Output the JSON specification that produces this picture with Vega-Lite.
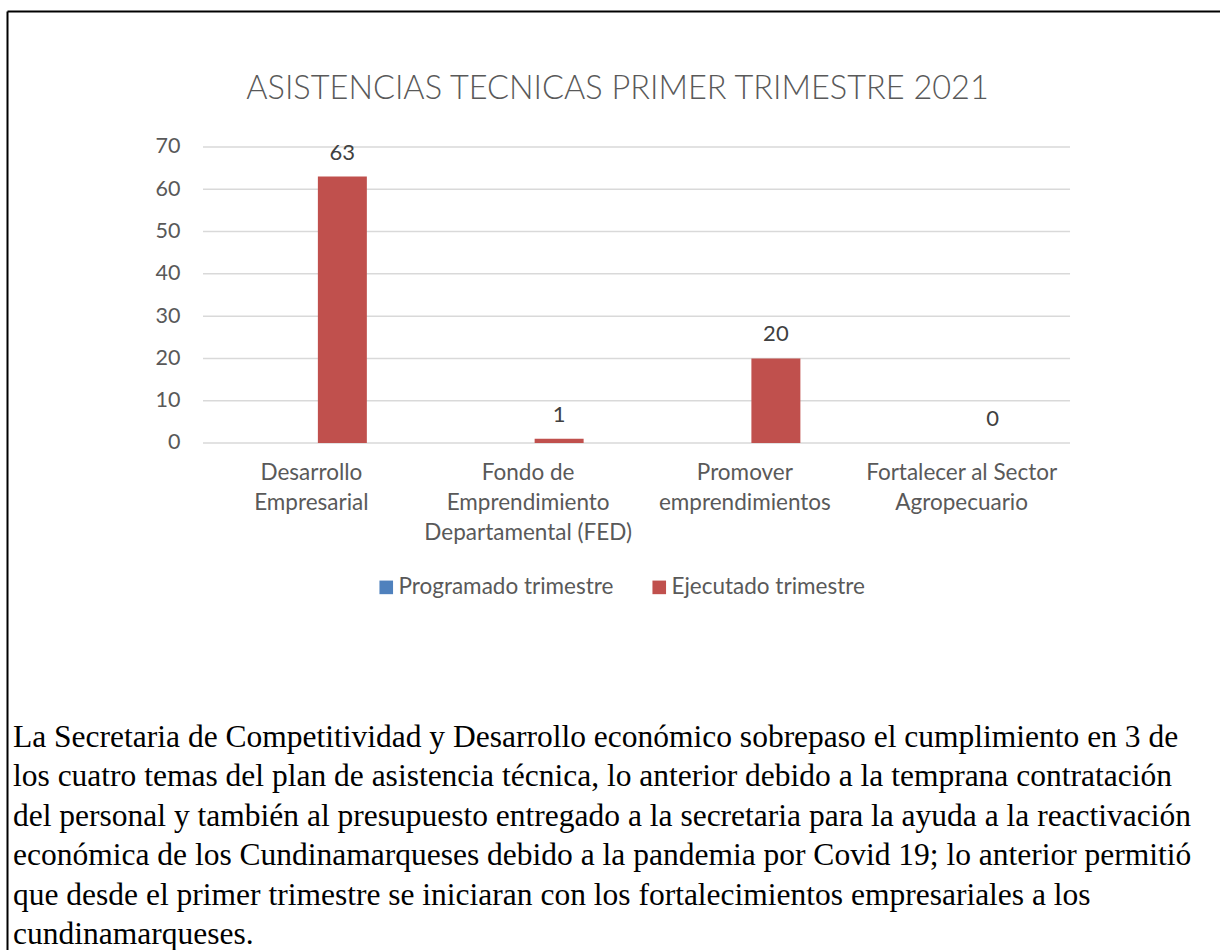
{
  "$schema": "https://vega.github.io/schema/vega-lite/v6.json",
  "autosize": {"type": "none"},
  "width": 1213,
  "height": 939,
  "padding": {"left": 7, "top": 11, "right": 0, "bottom": 0},
  "background": "white",
  "config": {"view": {"stroke": null}},
  "title": {
    "text": "ASISTENCIAS TECNICAS PRIMER TRIMESTRE 2021",
    "anchor": "middle",
    "frame": "group",
    "orient": "top",
    "offset": -120,
    "baseline": "alphabetic",
    "font": "Lato",
    "fontSize": 32.5,
    "fontWeight": 300,
    "color": "#595959",
    "dx": 4
  },
  "datasets": {
    "barras": [
      {"categoria": "Desarrollo Empresarial", "serie": "Programado trimestre", "valor": null},
      {"categoria": "Desarrollo Empresarial", "serie": "Ejecutado trimestre", "valor": 63},
      {"categoria": "Fondo de Emprendimiento Departamental (FED)", "serie": "Programado trimestre", "valor": null},
      {"categoria": "Fondo de Emprendimiento Departamental (FED)", "serie": "Ejecutado trimestre", "valor": 1},
      {"categoria": "Promover emprendimientos", "serie": "Programado trimestre", "valor": null},
      {"categoria": "Promover emprendimientos", "serie": "Ejecutado trimestre", "valor": 20},
      {"categoria": "Fortalecer al Sector Agropecuario", "serie": "Programado trimestre", "valor": null},
      {"categoria": "Fortalecer al Sector Agropecuario", "serie": "Ejecutado trimestre", "valor": 0}
    ],
    "rejilla": [{"v": 0}, {"v": 10}, {"v": 20}, {"v": 30}, {"v": 40}, {"v": 50}, {"v": 60}, {"v": 70}],
    "parrafo": [
      {"linea": 1, "texto": "La Secretaria de Competitividad y Desarrollo económico sobrepaso el cumplimiento en 3 de"},
      {"linea": 2, "texto": "los cuatro temas del plan de asistencia técnica, lo anterior debido a la temprana contratación"},
      {"linea": 3, "texto": "del personal y también al presupuesto entregado a la secretaria para la ayuda a la reactivación"},
      {"linea": 4, "texto": "económica de los Cundinamarqueses debido a la pandemia por Covid 19; lo anterior permitió"},
      {"linea": 5, "texto": "que desde el primer trimestre se iniciaran con los fortalecimientos empresariales a los"},
      {"linea": 6, "texto": "cundinamarqueses."}
    ]
  },
  "layer": [
    {
      "layer": [
        {
          "data": {"name": "rejilla"},
          "mark": {"type": "rule", "color": "#d9d9d9", "strokeWidth": 1.5},
          "encoding": {
            "x": {"datum": "Desarrollo Empresarial", "type": "nominal", "bandPosition": 0},
            "x2": {"datum": "Fortalecer al Sector Agropecuario", "bandPosition": 1},
            "y": {"field": "v", "type": "quantitative"}
          }
        },
        {
          "data": {"name": "barras"},
          "mark": {"type": "bar"},
          "encoding": {
            "x": {
              "field": "categoria",
              "type": "nominal",
              "sort": null,
              "scale": {
                "domain": ["Desarrollo Empresarial", "Fondo de Emprendimiento Departamental (FED)", "Promover emprendimientos", "Fortalecer al Sector Agropecuario"],
                "paddingInner": 0,
                "paddingOuter": 0.798,
                "align": 0.5665
              },
              "axis": {
                "orient": "bottom",
                "offset": -507,
                "title": null,
                "domain": false,
                "ticks": false,
                "grid": false,
                "labelAngle": 0,
                "labelAlign": "center",
                "labelPadding": 29,
                "labelFont": "Lato",
                "labelFontSize": 22.5,
                "labelColor": "#595959",
                "labelLineHeight": 30,
                "labelLimit": 0,
                "labelExpr": "datum.label == 'Desarrollo Empresarial' ? ['Desarrollo', 'Empresarial'] : datum.label == 'Fondo de Emprendimiento Departamental (FED)' ? ['Fondo de', 'Emprendimiento', 'Departamental (FED)'] : datum.label == 'Promover emprendimientos' ? ['Promover', 'emprendimientos'] : ['Fortalecer al Sector', 'Agropecuario']"
              }
            },
            "xOffset": {
              "field": "serie",
              "type": "nominal",
              "scale": {"domain": ["Programado trimestre", "Ejecutado trimestre"], "paddingInner": 0.21, "paddingOuter": 0.853}
            },
            "y": {
              "field": "valor",
              "type": "quantitative",
              "scale": {"domain": [-119.9, 102.16], "nice": false, "zero": false},
              "axis": {
                "orient": "left",
                "offset": -173,
                "title": null,
                "domain": false,
                "ticks": false,
                "grid": false,
                "values": [0, 10, 20, 30, 40, 50, 60, 70],
                "labelPadding": 0,
                "labelFont": "Lato",
                "labelFontSize": 21.5,
                "labelColor": "#595959"
              }
            },
            "color": {
              "field": "serie",
              "type": "nominal",
              "scale": {"domain": ["Programado trimestre", "Ejecutado trimestre"], "range": ["#4F81BD", "#C0504D"]},
              "legend": {
                "orient": "none",
                "legendX": 368,
                "legendY": 565,
                "direction": "horizontal",
                "title": null,
                "symbolType": "square",
                "symbolSize": 185,
                "symbolStrokeWidth": 0,
                "labelFont": "Lato",
                "labelFontSize": 22.5,
                "labelColor": "#595959",
                "labelOffset": 1,
                "columnPadding": 34,
                "labelLimit": 0
              }
            }
          }
        },
        {
          "data": {"name": "barras"},
          "transform": [{"filter": "datum.valor != null && datum.serie == 'Ejecutado trimestre'"}],
          "mark": {"type": "text", "baseline": "alphabetic", "align": "center", "dy": -17, "font": "Lato", "fontSize": 22, "color": "#404040"},
          "encoding": {
            "x": {"field": "categoria", "type": "nominal", "sort": null},
            "xOffset": {"field": "serie", "type": "nominal"},
            "y": {"field": "valor", "type": "quantitative"},
            "text": {"field": "valor", "type": "quantitative"}
          }
        }
      ]
    },
    {
      "data": {"name": "parrafo"},
      "mark": {"type": "text", "align": "left", "baseline": "alphabetic", "dx": 6, "font": "Liberation Serif", "fontSize": 31.5, "color": "#000000"},
      "encoding": {
        "x": {
          "datum": 0,
          "type": "quantitative",
          "scale": {"domain": [0, 1], "nice": false, "zero": false},
          "axis": {"orient": "top", "title": null, "labels": false, "ticks": false, "grid": false, "domain": true, "domainColor": "#000000", "domainWidth": 2}
        },
        "y": {
          "field": "linea",
          "type": "quantitative",
          "scale": {"domain": [-17.63, 6.14], "reverse": true, "nice": false, "zero": false},
          "axis": {"orient": "left", "title": null, "labels": false, "ticks": false, "grid": false, "domain": true, "domainColor": "#000000", "domainWidth": 2}
        },
        "text": {"field": "texto", "type": "nominal"}
      }
    }
  ],
  "resolve": {
    "scale": {"x": "independent", "y": "independent"},
    "axis": {"x": "independent", "y": "independent"}
  }
}
